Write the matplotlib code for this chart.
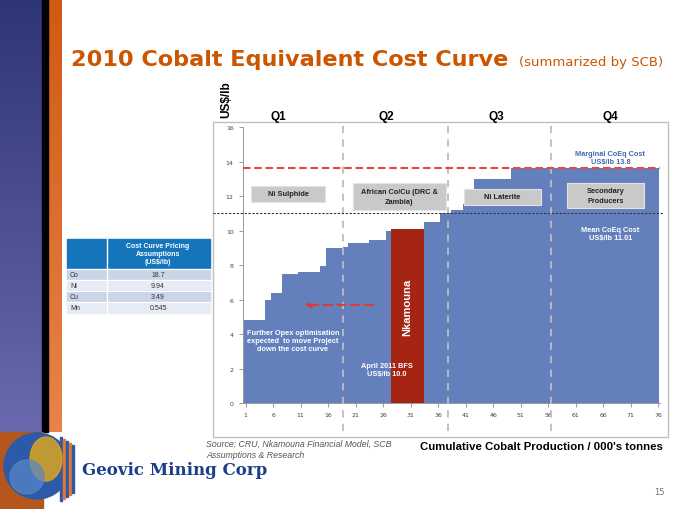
import matplotlib.pyplot as plt
import numpy as np
from matplotlib.patches import Rectangle, Circle, Ellipse

# producers along the curve: width = production (000 t), height = cost US$/lb
start = 0.55
production = [3.95, 1.04, 2.05, 2.96, 3.93, 1.04, 3.08, 0.91, 3.92, 3.03,
              1.04, 5.91, 2.98, 2.0, 2.1, 1.94, 6.85, 26.9]
costs = [4.83, 5.99, 6.37, 7.49, 7.59, 7.97, 8.98, 9.06, 9.31, 9.44,
         10.0, 10.1, 10.52, 11.0, 11.2, 11.55, 13.0, 13.6]
nkamouna_idx = 11

marginal_cost = 13.6
mean_cost = 11.01
quartile_splits = [18.6, 37.8, 56.5]
quartile_names = ['Q1', 'Q2', 'Q3', 'Q4']
quartile_mid = [7.0, 26.6, 46.6, 67.3]
xticks = list(range(1, 77, 5))
yticks = list(range(0, 17, 2))

regions = ['Ni Sulphide', 'African Co/Cu (DRC &\nZambia)', 'Ni Laterite', 'Secondary\nProducers']
region_x = [8.7, 28.9, 47.6, 66.4]
region_y = [12.13, 11.97, 11.96, 12.03]
region_w = [13.3, 16.9, 14.0, 14.0]
region_h = [0.89, 1.55, 0.91, 1.43]

metals = ['Co', 'Ni', 'Cu', 'Mn']
prices = ['18.7', '9.94', '3.49', '0.545']

BLUE = '#6480bc'
RED = '#a52414'
ORANGE = '#cc5500'

fig = plt.figure(figsize=(6.8, 5.1), dpi=100)

# background decorations in pixel coordinates
bg = fig.add_axes([0, 0, 1, 1], zorder=0)
bg.set_xlim(0, 680)
bg.set_ylim(510, 0)
bg.axis('off')

grad = np.linspace(0, 1, 256).reshape(-1, 1)
purple = plt.matplotlib.colors.LinearSegmentedColormap.from_list('p', ['#2e3577', '#6a69ae'])
orng = plt.matplotlib.colors.LinearSegmentedColormap.from_list('o', ['#cf5a12', '#e9834a'])
bg.imshow(grad, cmap=purple, extent=(0, 42, 433, 0), aspect='auto')
bg.add_patch(Rectangle((42, 0), 6, 433, color='black'))
bg.imshow(grad, cmap=orng, extent=(48, 62, 433, 0), aspect='auto')
bg.add_patch(Rectangle((0, 433), 43, 77, color='#b4561e'))

# logo
bg.add_patch(Circle((37, 467), 33, color='#2c5aa8', zorder=3))
bg.add_patch(Ellipse((46, 460), 32, 44, color='#d9a520', alpha=0.85, zorder=4))
bg.add_patch(Circle((27, 478), 17, color='#5a86c8', alpha=0.7, zorder=4))
for i, c in enumerate(['#2c5aa8', '#e07a30', '#2c5aa8', '#e07a30', '#2c5aa8']):
    bg.add_patch(Rectangle((60 + i * 3.0, 438 + i * 2), 1.8, 64 - i * 4, color=c, zorder=3))
bg.text(82, 471, 'Geovic Mining Corp', fontsize=12, fontweight='bold',
        family='DejaVu Serif', color='#1b3f8b', va='center', ha='left')
bg.text(665, 493, '15', fontsize=6, color='#777777', ha='right', va='center')

# title
bg.text(71, 66, '2010 Cobalt Equivalent Cost Curve', fontsize=16.1, fontweight='bold',
        color=ORANGE, family='DejaVu Sans', ha='left', va='baseline')
bg.text(519, 66, '(summarized by SCB)', fontsize=9.5, color=ORANGE,
        family='DejaVu Sans', ha='left', va='baseline')

# chart frame
bg.add_patch(Rectangle((213, 122.7), 455, 315.3, fill=False, edgecolor='#c0c0c0', lw=1))

# pricing table
bg.add_patch(Rectangle((67, 240), 143, 29, color='#1474bc'))
bg.plot([106.5, 106.5], [240, 314], color='white', lw=1)
bg.text(158, 254.5, 'Cost Curve Pricing\nAssumptions\n(US$/lb)', color='white',
        fontsize=5, fontweight='bold', ha='center', va='center', family='Liberation Sans',
        linespacing=1.2)
for i, (m, p) in enumerate(zip(metals, prices)):
    y0 = 269.5 + i * 11.2
    bg.add_patch(Rectangle((67, y0), 143, 11.2,
                           color='#cbd5e8' if i % 2 == 0 else '#e7ebf3'))
    bg.plot([67, 210], [y0, y0], color='white', lw=0.8)
    bg.text(70, y0 + 5.6, m, fontsize=5, ha='left', va='center', color='#333333',
            family='Liberation Sans')
    bg.text(158, y0 + 5.6, p, fontsize=5, ha='center', va='center', color='#333333',
            family='Liberation Sans')

bg.text(206, 440, 'Source: CRU, Nkamouna Financial Model, SCB\nAssumptions & Research',
        fontsize=6.3, style='italic', color='#555555', ha='left', va='top',
        family='Liberation Sans', linespacing=1.25)
bg.text(663, 450, "Cumulative Cobalt Production / 000's tonnes", fontsize=8.2,
        fontweight='bold', color='black', ha='right', va='baseline', family='Liberation Sans')
bg.text(226, 100, 'US$/lb', rotation=90, fontsize=8.5, fontweight='bold',
        ha='center', va='center', family='Liberation Sans')

# main chart
ax = fig.add_axes([242.7 / 680, 1 - 404.3 / 510, (660.5 - 242.7) / 680,
                   (404.3 - 128) / 510], zorder=2)
ax.patch.set_alpha(0)
lefts = start + np.concatenate([[0], np.cumsum(production)[:-1]])
colors = [RED if i == nkamouna_idx else BLUE for i in range(len(costs))]
ax.bar(lefts, costs, width=production, align='edge', color=colors, linewidth=0, zorder=2)

ax.set_xlim(0.46, 76.4)
ax.set_ylim(0, 16)
ax.set_xticks(xticks)
ax.set_yticks(yticks)
ax.tick_params(labelsize=4.5, colors='#888888', labelcolor='#444444', length=3, width=0.6)
for s in ['top', 'right']:
    ax.spines[s].set_visible(False)
for s in ['left', 'bottom']:
    ax.spines[s].set_color('#999999')
    ax.spines[s].set_linewidth(0.7)

for xq in quartile_splits:
    ax.plot([xq, xq], [-1.6, 16.2], color='#bdbdbd', lw=1.3, ls=(0, (4, 3.5)),
            clip_on=False, zorder=3)
for name, xm in zip(quartile_names, quartile_mid):
    ax.text(xm, 16.65, name, fontsize=8.5, fontweight='bold', ha='center', va='center',
            family='Liberation Sans')

ax.plot([0.46, 76.4], [marginal_cost, marginal_cost], color='#e5473a', lw=1.5,
        ls=(0, (3.6, 1.8)), zorder=4, clip_on=False)
ax.plot([-4.9, 77.0], [mean_cost, mean_cost], color='#333333', lw=0.8,
        ls=(0, (2, 1.5)), zorder=4, clip_on=False)

for lab, xc, yc, w, h in zip(regions, region_x, region_y, region_w, region_h):
    ax.add_patch(Rectangle((xc - w / 2, yc - h / 2), w, h, facecolor='#c9c9c9',
                           edgecolor='#e3e3e3', lw=0.8, zorder=5))
    ax.text(xc, yc, lab, fontsize=5.3, fontweight='bold', ha='center', va='center',
            color='#222222', family='Liberation Sans', zorder=6, linespacing=1.6)

ax.text(67.3, 14.24, 'Marginal CoEq Cost\nUS$/lb 13.8', fontsize=5.3, fontweight='bold',
        color='#4468b0', ha='center', va='center', family='Liberation Sans')
ax.text(67.3, 9.81, 'Mean CoEq Cost\nUS$/lb 11.01', fontsize=5.3, fontweight='bold',
        color='white', ha='center', va='center', family='Liberation Sans', zorder=6)
ax.text(30.45, 5.64, 'Nkamouna', fontsize=8, fontweight='bold', rotation=90,
        color='white', ha='center', va='center', family='Liberation Sans', zorder=6)
ax.text(26.6, 1.96, 'April 2011 BFS\nUS$/lb 10.0', fontsize=5.3, fontweight='bold',
        color='white', ha='center', va='center', family='Liberation Sans', zorder=6)
ax.text(9.6, 3.61, 'Further Opex optimisation\nexpected  to move Project\ndown the cost curve',
        fontsize=5.3, fontweight='bold', color='white', ha='center', va='center',
        family='Liberation Sans', zorder=6)
ax.annotate('', xy=(11.2, 5.70), xytext=(24.6, 5.70),
            arrowprops=dict(arrowstyle='->', color='#e03a2e', lw=1.5,
                            linestyle=(0, (4, 2.5)), mutation_scale=9), zorder=6)

fig.savefig('out.png', dpi=100)
